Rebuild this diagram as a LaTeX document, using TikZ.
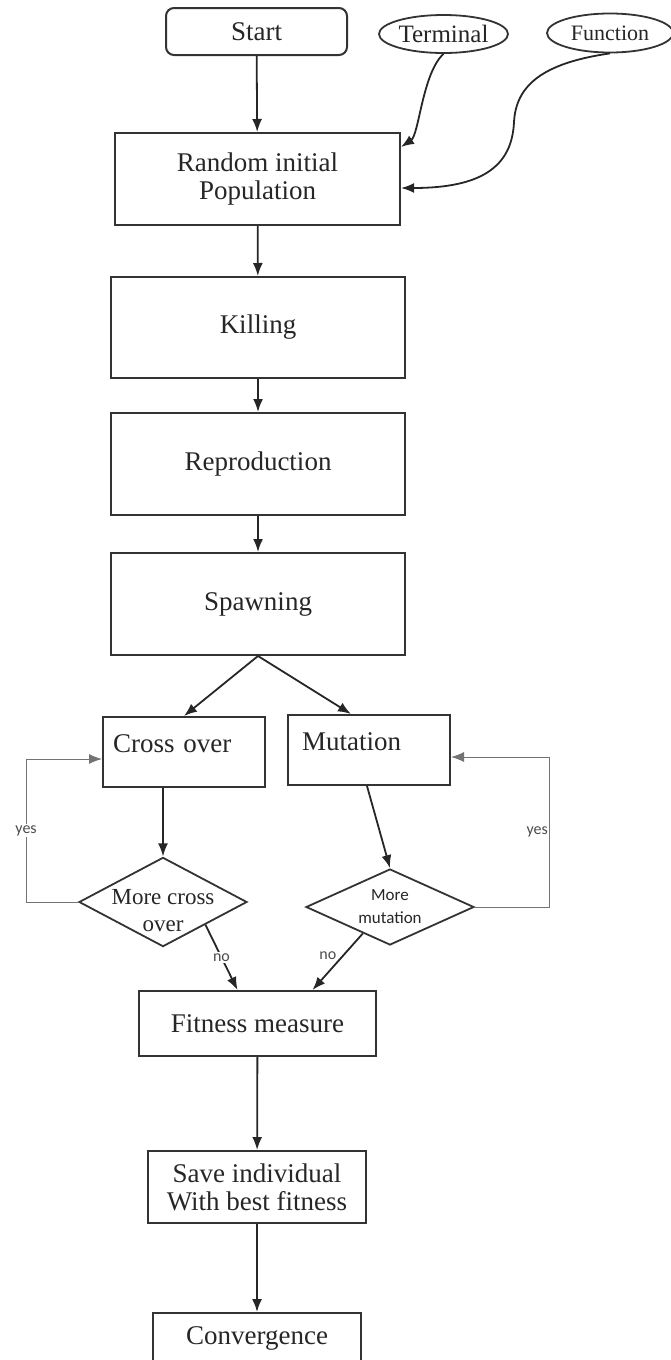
\documentclass[tikz,border=0pt]{standalone}
\usepackage{fontspec}
\setmainfont{Liberation Serif}
\newfontfamily\labelfont{Carlito}
\usetikzlibrary{
    shapes.geometric,
    arrows.meta,
    calc
}

\begin{document}
\begin{tikzpicture}[
        x=1pt, y=-1pt,
        stage/.style={rectangle, draw=black!80, line width=2pt, align=center, inner sep=0pt, font=\fontsize{27}{28}\selectfont, text=black!85},
        cue/.style={ellipse, draw=black!80, line width=1.8pt, inner sep=0pt, text=black!85},
        query/.style={diamond, draw=black!80, line width=1.8pt, inner sep=0pt, align=center, text=black!85},
        arrow/.style={-{Latex[length=13pt, width=10pt]}, line width=1.8pt, black!85},
        loopback/.style={-{Latex[length=13pt, width=10pt]}, line width=1pt, black!55},
        tag/.style={font=\labelfont\fontsize{16}{16}\selectfont, text=black!70, inner sep=1.5pt}
    ]
        \useasboundingbox (0,0) rectangle (671,1360);

        \node[stage, rounded corners=8pt, minimum width=181pt, minimum height=47pt] (start) at (256.5,31.5) {Start};
        \node[cue, minimum width=129pt, minimum height=38pt, font=\fontsize{25}{25}\selectfont] (term) at (443.5,34) {Terminal};
        \node[cue, minimum width=126pt, minimum height=39pt, font=\fontsize{22}{22}\selectfont] (func) at (610,33) {Function};
        \node[stage, minimum width=285pt, minimum height=92pt] (rand) at (257.5,179) {Random initial\\Population};
        \node[stage, minimum width=294pt, minimum height=101pt] (kill) at (258,327.5) {Killing};
        \node[stage, minimum width=294pt, minimum height=102pt] (repro) at (258,464) {Reproduction};
        \node[stage, minimum width=294pt, minimum height=102pt] (spawn) at (258,604) {Spawning};
        \node[stage, align=left, text width=142pt, text height=23pt, text depth=23pt, inner xsep=10pt, inner ysep=12pt] (cross) at (184,752) {Cross over};
        \node[stage, align=left, text width=134pt, text height=23pt, text depth=23pt, inner xsep=14pt, inner ysep=12pt] (mut) at (369,750) {Mutation};
        \node[query, minimum width=168pt, minimum height=80pt, font=\fontsize{23}{27}\selectfont] (morecross) at (163,902) {\rule{0pt}{32pt}\makebox[30pt]{More cross}\\\makebox[30pt]{over}};
        \node[query, minimum width=168pt, minimum height=76pt, font=\labelfont\fontsize{17}{23}\selectfont] (moremut) at (390,907) {\makebox[40pt]{More}\\\makebox[40pt]{mutation}};
        \node[stage, minimum width=237pt, minimum height=65pt] (fit) at (257.5,1023.5) {Fitness measure};
        \node[stage, minimum width=218pt, minimum height=72pt] (save) at (257,1187) {Save individual\\With best fitness};
        \node[stage, minimum width=208pt, minimum height=50pt] (conv) at (257,1338) {Convergence};
        \coordinate (fbend) at (514,122);

        \draw[arrow] (start) -- (rand);
        \draw[arrow] (term.south) .. controls +(-21,19) and +(18,-12) .. ([yshift=32pt]rand.east);
        \draw[arrow] (func.south) .. controls +(-70,10) and +(2,-35) .. (fbend) .. controls +(-2,45) and +(80,0) .. ([yshift=-9pt]rand.east);
        \draw[arrow] (rand) -- (kill);
        \draw[arrow] (kill) -- (repro);
        \draw[arrow] (repro) -- (spawn);
        \draw[arrow] (spawn.south) -- (cross.north);
        \draw[arrow] (spawn.south) -- ([xshift=-18pt]mut.north);
        \draw[arrow] (cross.south -| morecross.north) -- (morecross.north);
        \draw[arrow] ([xshift=-2pt]mut.south) -- (moremut.north);
        \draw[arrow] (morecross.south east) -- node[tag, fill=white] {no} ([xshift=-20pt]fit.north);
        \draw[arrow] ($(moremut.west)!0.68!(moremut.south)$) -- node[tag, pos=0.4, left=4pt] {no} ([xshift=55pt]fit.north);
        \draw[loopback] (morecross.west) -- ++(-52,0) |- node[tag, pos=0.25, fill=white] {yes} ([yshift=-7pt]cross.west);
        \draw[loopback] (moremut.east) -- ++(75,0) |- node[tag, pos=0.25, left] {yes} ([yshift=-7pt]mut.east);
        \draw[arrow] (fit) -- (save);
        \draw[arrow] (save) -- (conv);
\end{tikzpicture}
\end{document}
